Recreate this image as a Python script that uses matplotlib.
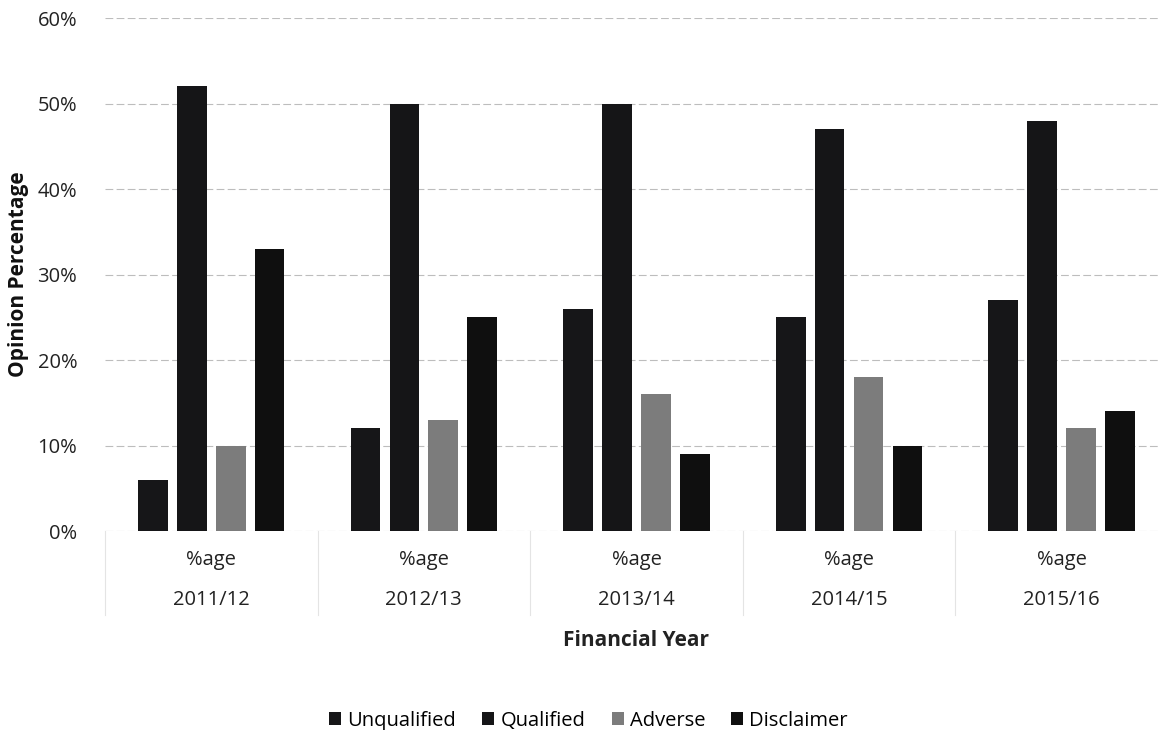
import numpy as np
import matplotlib
matplotlib.use("Agg")
import matplotlib.pyplot as plt
from matplotlib.ticker import PercentFormatter

plt.rcParams['font.family'] = ['Open Sans', 'DejaVu Sans']

years = ["2011/12", "2012/13", "2013/14", "2014/15", "2015/16"]
sub_label = "%age"
series = ["Unqualified", "Qualified", "Adverse", "Disclaimer"]
unqualified = [6, 12, 26, 25, 27]
qualified = [52, 50, 50, 47, 48]
adverse = [10, 13, 16, 18, 12]
disclaimer = [33, 25, 9, 10, 14]
colors = ["#161618", "#151517", "#7c7c7c", "#0f0f0f"]

values = [unqualified, qualified, adverse, disclaimer]

fig = plt.figure(figsize=(11.61, 7.30), dpi=100)
ax = fig.add_axes([0.0904, 0.2726, 0.9156, 0.7027])

x = np.arange(len(years))
width = 0.14
pitch = 0.183
for i, (name, vals) in enumerate(zip(series, values)):
    ax.bar(x + (i - 1.5) * pitch, vals, width, color=colors[i], label=name, zorder=3)

ax.set_xlim(-0.5, len(years) - 0.5)
ax.set_ylim(0, 60)
ax.set_yticks(range(0, 61, 10))
ax.yaxis.set_major_formatter(PercentFormatter(decimals=0))
ax.grid(axis='y', color='#bdbdbd', linestyle=(0, (7, 3)), linewidth=0.8, zorder=0)
for s in ax.spines.values():
    s.set_visible(False)
ax.tick_params(axis='y', length=0, labelsize=14.5, colors='#222222', pad=20)
ax.set_xticks([])

# multi-level category labels
for xi, yr in zip(x, years):
    ax.text(xi, -3.4, sub_label, ha='center', va='center', fontsize=14.5, color='#222222')
    ax.text(xi, -8.1, yr, ha='center', va='center', fontsize=14.5, color='#222222')
for b in np.arange(-0.5, len(years), 1.0):
    ax.plot([b, b], [0, -9.8], color='#e4e4e4', linewidth=0.8, clip_on=False)

ax.text(2, -12.8, "Financial Year", ha='center', va='center', fontsize=15,
        fontweight='bold', color='#222222')
ax.set_ylabel("Opinion Percentage", fontsize=15, fontweight='bold', color='#111111', labelpad=6)

ax.legend(loc='upper center', bbox_to_anchor=(0.455, -0.315), ncol=4, frameon=False,
          fontsize=14.5, handlelength=0.6, handleheight=0.6, handletextpad=0.3,
          columnspacing=1.3)

fig.savefig("out.png", dpi=100)
